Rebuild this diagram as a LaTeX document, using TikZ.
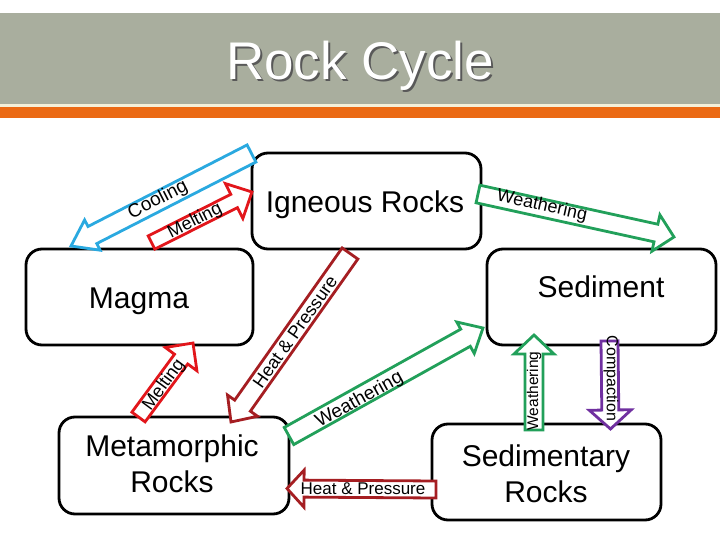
\documentclass[tikz,border=0pt]{standalone}
\usepackage{fontspec}
\setmainfont{Liberation Sans}
\definecolor{bandgray}{HTML}{A9AE9E}
\definecolor{bandorange}{HTML}{EB6A14}
\definecolor{bandcream}{HTML}{F4F0DA}
\definecolor{coolblue}{HTML}{2AA9E0}
\definecolor{meltred}{HTML}{E2161B}
\definecolor{heatred}{HTML}{A51E22}
\definecolor{weathgreen}{HTML}{22A05A}
\definecolor{compurple}{HTML}{7030A0}
\tikzset{
  rockbox/.style={draw=black, line width=2.8pt, rounded corners=16pt, fill=white, inner sep=0pt},
  boxtext/.style={font=\fontsize{30}{36}\selectfont, anchor=base, inner sep=0pt},
  arrowline/.style={line width=2.8pt, line join=miter, fill=white},
  arrowtext/.style={inner sep=0pt, text=black},
}
\newcommand{\blockarrow}[8]{%
  \pgfmathsetmacro\baang{atan2((#3)-(#5),(#4)-(#2))}%
  \pgfmathsetmacro\balen{veclen((#4)-(#2),(#5)-(#3))}%
  \pgfmathsetmacro\babase{\balen-(#8)}%
  \begin{scope}[shift={(#2,#3)},rotate=\baang]
    \draw[arrowline,draw=#1] (0,#6) -- (\babase,#6) -- (\babase,#7) -- (\balen,0)
      -- (\babase,-#7) -- (\babase,-#6) -- (0,-#6) -- cycle;
  \end{scope}}
\begin{document}
\begin{tikzpicture}[x=1pt,y=-1pt]
\useasboundingbox (0,0) rectangle (720,540);
\fill[white] (0,0) rectangle (720,540);
% title band
\fill[bandgray] (0,13) rectangle (720,104);
\fill[bandcream] (0,104) rectangle (720,107);
\fill[bandorange] (0,107) rectangle (720,118);
\node[font=\fontsize{53}{53}\selectfont, text=black!65, anchor=base] (titleshadow) at (362,82) {Rock Cycle};
\node[font=\fontsize{53}{53}\selectfont, text=white, anchor=base] (title) at (360,80) {Rock Cycle};
% boxes
\node[rockbox, minimum width=229pt, minimum height=96pt] (igneous) at (366.5,201) {};
\node[rockbox, minimum width=227pt, minimum height=96pt] (magma) at (139.5,297) {};
\node[rockbox, minimum width=229pt, minimum height=96pt] (sediment) at (601.5,297) {};
\node[rockbox, minimum width=230pt, minimum height=97pt] (metamorphic) at (174,465.5) {};
\node[rockbox, minimum width=229pt, minimum height=96pt] (sedimentary) at (546.5,472) {};
\node[boxtext] (igneoustxt) at (365,212) {Igneous Rocks};
\node[boxtext] (magmatxt) at (139,308) {Magma};
\node[boxtext] (sedimenttxt) at (601,297) {Sediment};
\node[boxtext] (metatxta) at (172,456) {Metamorphic};
\node[boxtext] (metatxtb) at (172,492) {Rocks};
\node[boxtext] (sedtxta) at (546,466) {Sedimentary};
\node[boxtext] (sedtxtb) at (546,502) {Rocks};
% block arrows
\blockarrow{coolblue}{251.5}{153.5}{71}{246}{9.6}{17}{24}
\blockarrow{meltred}{151.5}{242.5}{252}{192}{7.4}{19.5}{20}
\blockarrow{weathgreen}{478}{194}{674}{237}{9}{18.6}{18.5}
\blockarrow{heatred}{350}{253.5}{231}{422}{9.6}{18.4}{20}
\blockarrow{meltred}{138.5}{417}{193}{343}{8.2}{19.6}{20}
\blockarrow{weathgreen}{289}{436}{483}{328}{9.8}{18}{20}
\blockarrow{heatred}{436}{489.5}{287}{488.5}{8.5}{18.5}{17}
\blockarrow{weathgreen}{534}{430}{534}{335}{9}{20}{19}
\blockarrow{compurple}{609.5}{341}{610.5}{429}{8.5}{21}{19}
% arrow labels
\node[arrowtext, font=\fontsize{19}{19}\selectfont, rotate=27.1] (coollbl) at (158,200) {Cooling};
\node[arrowtext, font=\fontsize{18}{18}\selectfont, rotate=26.7] (meltlbla) at (195,221) {Melting};
\node[arrowtext, font=\fontsize{18}{18}\selectfont, rotate=-12.4] (weathlbla) at (542,206) {Weathering};
\node[arrowtext, font=\fontsize{18}{18}\selectfont, rotate=54.8] (heatlbla) at (295,332) {Heat \& Pressure};
\node[arrowtext, font=\fontsize{18}{18}\selectfont, rotate=53.6] (meltlblb) at (164,385) {Melting};
\node[arrowtext, font=\fontsize{19}{19}\selectfont, rotate=29.1] (weathlblb) at (359.5,400) {Weathering};
\node[arrowtext, font=\fontsize{17}{17}\selectfont] (heatlblb) at (363,489) {Heat \& Pressure};
\node[arrowtext, font=\fontsize{15.5}{15.5}\selectfont, rotate=90] (weathlblc) at (534,391) {Weathering};
\node[arrowtext, font=\fontsize{16}{16}\selectfont, rotate=-90] (complbl) at (611,378.5) {Compaction};
\end{tikzpicture}
\end{document}
